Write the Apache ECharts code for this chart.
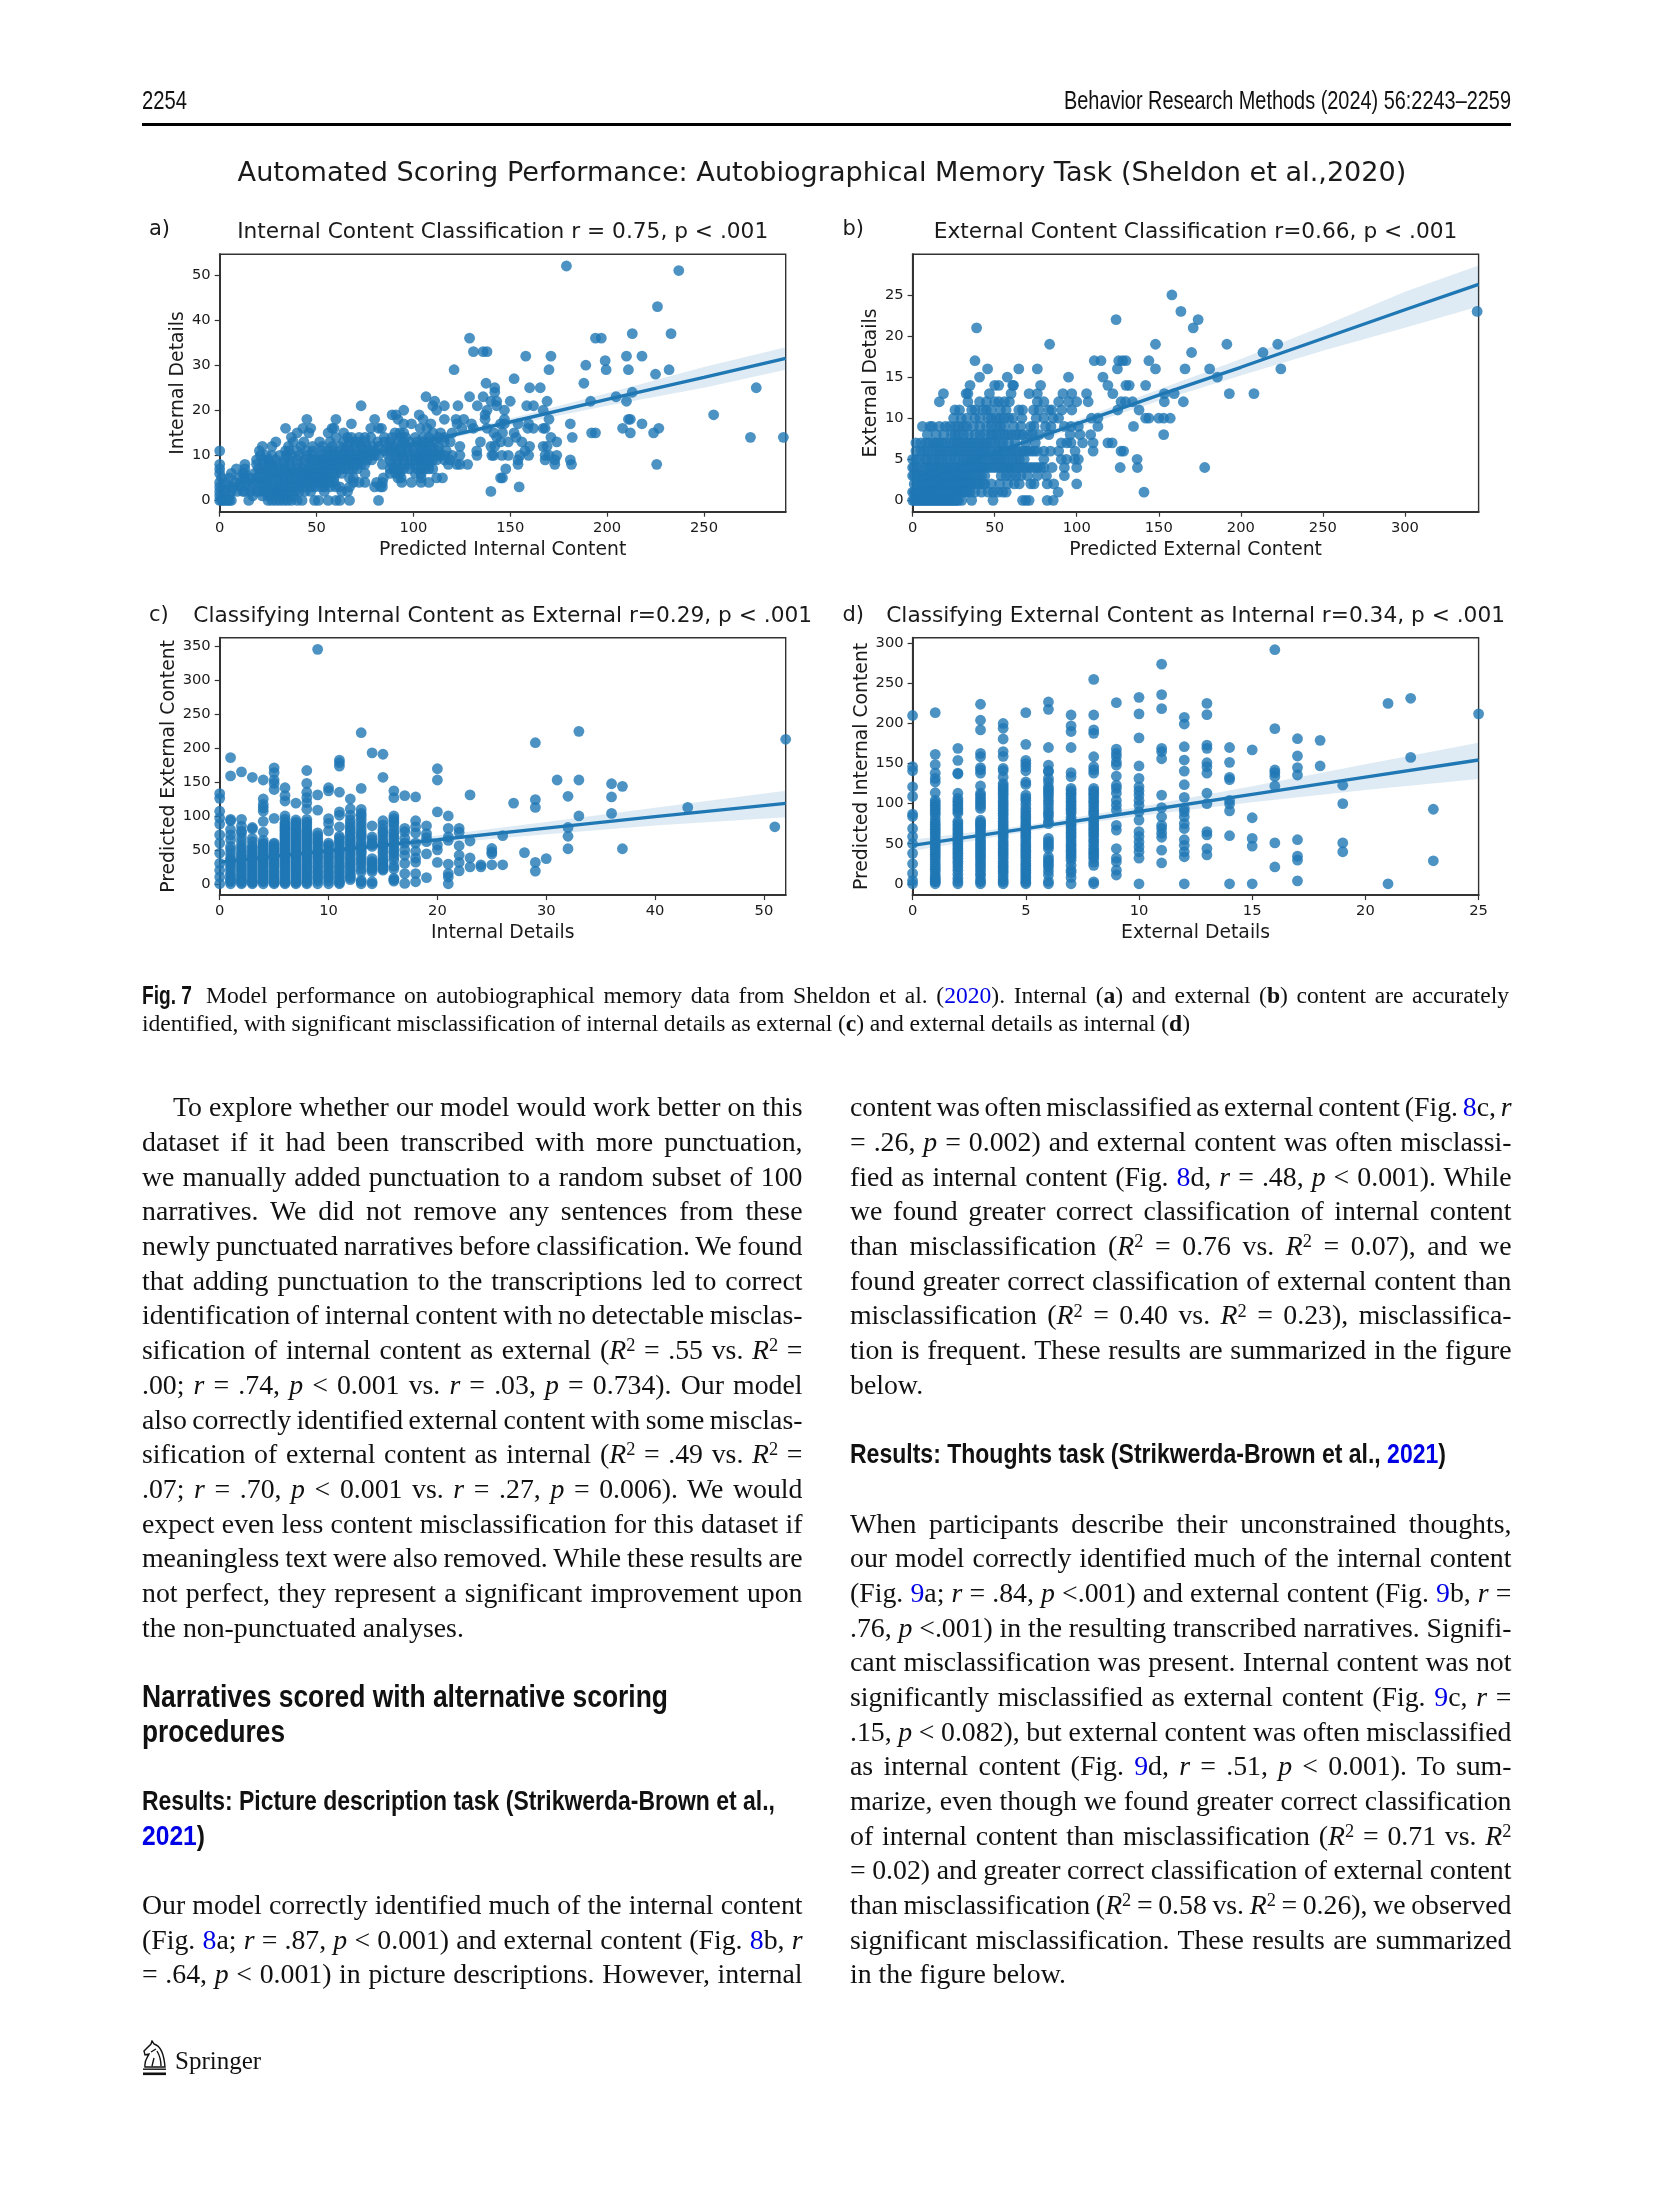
<!DOCTYPE html>
<html><head><meta charset="utf-8">
<style>
html,body{margin:0;padding:0;background:#fff;width:1654px;height:2197px;overflow:hidden}
#chart{position:absolute;left:0;top:0;width:1654px;height:2197px}
.ln{position:absolute;white-space:nowrap;line-height:34px;height:34px;font-family:"Liberation Serif",serif;font-size:27.8px;color:#111}
.hd{font-family:"Liberation Sans",sans-serif;font-weight:700;color:#111;transform-origin:0 50%}
.rh{font-family:"Liberation Sans",sans-serif;font-size:25px;color:#111;transform-origin:0 50%}
.cap{font-size:23.6px}
a{color:#0000e6;text-decoration:none}
sup{font-size:.66em;line-height:0;vertical-align:baseline;position:relative;top:-.42em}
#rule{position:absolute;left:142px;top:123px;width:1369px;height:3.4px;background:#000}
</style></head><body>
<div id="chart"></div>
<div id="rule"></div>
<div id="page"></div>
<svg style="position:absolute;left:142px;top:2040px" width="26" height="36" viewBox="0 0 26 36"><path d="M3 27 C2 20 6 17 7 14 L3 15 L2 11 L9 4 L10 1 L12 4 C19 6 22 14 23 27 Z M9 12 L14 9 M12 18 L10 26 M15 11 C18 16 19 21 19 26" fill="none" stroke="#111" stroke-width="1.4"/><rect x="1" y="28.5" width="23" height="1.4" fill="#111"/><rect x="1" y="32.5" width="23" height="2.6" fill="#111"/></svg>
<script src="https://cdn.jsdelivr.net/npm/echarts@6/dist/echarts.min.js"></script>
<script>
// ---------- Panel a: rows of [Internal Details, [Predicted Internal Content ...]]
const aRows=[
[52,[179]],[51,[237]],[43,[226]],[37,[213,233]],[36,[129,194,197]],[33,[131,136,138]],[32,[158,171,210,218]],[31,[199]],[30,[189]],
[29,[121,170,199.5,211,232]],[28,[225]],[27,[152]],[26,[137.5,188]],[25,[142,160,165.5,277]],[24,[142,213]],[23,[106.5,129,136,204.6]],
[22,[111,140,143,150,169,191.5,210]],[21,[73,110,116,123,133,143,158.5,162]],[20,[95,112,138,147,167]],[19,[89,91,103,137,255]],
[18,[45,60,80,92,105,116,122,126,137,147,170,211,212]],[17,[68,95,99,109,122.5,130,145,147,154,159.5,181,218]],
[16,[34,43,47,58,59,78,82,83.5,103.5,107,125,131,138,159,162,167,168,208,226.7]],
[15,[40,46,56,64,90.5,93,95,110,114,120,141.5,146,152,192,194,212,224]],
[14,[37,60,66,68,72,75,78,85,89,93.5,96,101,105,108,113,116,143,153,171,182,274,291]],
[13,[29,38,43.5,51.6,57,64,67,70,72,75,81.6,85,88,92,95,98,102,105,108,111,116,119,134.6,145,149,156,174]],
[12,[22,27,35.5,42,48,53,58,62,66,70,73,76,79,82,87,90,94,97,101,103.5,106,109,113,124,140,142,160,167,169]],
[11,[0,20.5,34,35.7,40,44.7,48,52.8,56,58,62,65,67,70.7,74,77,80,85,88,91,94,97,100,104.6,107,110,113,117,132.7,157.6]],
[10,[21,24,27,31,34.5,37,41,45,48,52,56,58,60,62,64,67,69,71.6,73,75,78,80,82,87,90.5,93,95,98,101,103,105,107,109.5,112,114,116,120,124,132.8,140.5,141.4,145.7,149,155,159.5,168,170,174]],
[9,[19,22.4,25,28.8,33.6,36,40,44,47,49,52,52.6,54,57,59,62,64,66,67,69,71,73,76,78.5,88,92,95,99,101,103,105,108,110,112,116,119,154,168,173,181]],
[8,[0,13,19,23,26,27,30,33,36,40,44,48,52,55,57,59,61,63,65,67,69,71,73,75,84,89,91,95,98,101,104,106,108,118,122.4,124,128,154,173,181.6,225.6]],
[7,[0,8.6,13,20,22,25,28,31,34,37,40,43,46,50,52,54,56,58,60,63,65,67,69,71,88,90,92.8,95,98,102,104,106,108,110,147.7]],
[6,[0,6,12,13,18,21,24,27,30,33,36,38,41,43,46,48,50,52,54,56,58,60,63,75,88,91,93,101,104]],
[5,[1,5,10,13,16,19,23,26,30,33,36,39,42,45,47,49,51,53,55,57,59,67,69,84.5,92,93.7,104,112,115,145,146]],
[4,[0,3,8,11,14,17,20,22,25,28,31,34,37,40,42,45,47,49,51,53,55,57,59,69,72,75,81,84,94,99,104,108]],
[3,[0,4,7,11,16,21,24,27,30,33,36,38,41,44,47,49,52,54,57,60,62,67,80,83,84,154.6]],
[2,[0,3,6,9,12,13,16,19,21,23,26,28,30,32,34,37,39,41,44,47,54,63,66,140]],
[1,[0,2,5,17,22,25,27,31,33,35,38]],
[0,[0,1,2,3,4,5,6,15,25,27,29,31,33,35,37,40,42.5,49,51,56,60,62,67,82]]
];
// ---------- Panel b: rows of [External Details, [Predicted External Content ...]]
const bRows=[
[25,[158]],[23,[163.5,344]],[22,[124,174]],[21,[39,171]],[19,[83.5,148,191.5,222.5]],[18,[170,213.5]],
[17,[38,110.7,114.8,125.6,128,130,144]],[16,[45.7,64.7,76,124.8,148,166,181,224.4]],[15,[40.8,57.7,95,116,185.7]],
[14,[35,50,52.5,61,61.5,78,119,130,132,142]],[13,[18.8,32.6,33.7,46.8,60,71,76,91.6,97,106,122,153.4,159.4,193,208]],
[12,[16.3,33.7,40.8,45,50,52.5,56,59,76,80,89,95,100,107,127,129.7,134,153.4,165]],
[11,[25.8,28.6,36,38,42.7,44.9,48,53.6,57,64.7,67,73.7,77,83,84.8,91,97,125,138]],
[10,[25,29.6,33,38,41,46,48,51,53,55.8,58.5,61,66.6,75.3,80,85.7,89,109,112.9,142,144,150,153,157]],
[9,[6,10.6,12,16.3,20,22.6,26,28,31,33,37,41,45,48,51,53.6,56,61.7,66,72,74,81,84.3,92.5,96.5,101,112.9,134.6]],
[8,[9,14.4,19,23.7,25.8,28,31,34,38,41,44,47.6,49,51,53,55.8,58,60,63,65,67,70.7,73,77,83,96,102,108.5,153]],
[7,[2,5,8,10,12.8,14,16,18,20,23,25,27,29,31,33,35,37,39,41,43.5,45,47.6,50,53,55,58.5,62.5,69,74.8,90.6,94,96.5,103.6,110,119,121.6]],
[6,[2,5,7,9,12,14,16,18,20,22,24.5,26,28,30,32,34,36,38,40,42,44,46,48,51.7,53,55.8,58,60,62,64,66.6,68,70,72,74,76,80,84,89,99,110,127,128.6]],
[5,[0,2,4,7.6,9,12,14,16.3,18,21,23,26,28,31,33,35,37,39,41,43,46,48,50,52,54,56,58,61,63,65,68,80,90.6,93.8,98.7,101,136.8]],
[4,[0,1,3,6,8,10,11.5,13,15,17,18,20,22,24,26,28,29.5,31,33,35,36.5,38,40,42,43.5,45,47,49,51,53,55,57,58.5,60,62,64,66,68,70,72,74,76,78,80,85,92.5,100,126.5,137,178]],
[3,[0,1,3,4,6,7.5,9,10.5,12,13.5,15,16.5,18,19.5,21,22.5,24,25.5,27,28.5,30,31.5,33,34.5,36,38,40,42,44,54,57,60,63,66,70,76,81.6,92.5]],
[2,[1,2.5,4,5.5,7,8.5,10,11.5,13,14.5,16,17.5,19,20.5,22,23.5,25,26.5,28,29.5,31,32.5,34,35.5,37,39,41,43,44,48,53,58,62,65,72,74,82,86,100]],
[1,[0,1,2,3.5,5,6.5,8,9.5,11,12.5,14,15.5,17,18.5,20,21.5,23,24.5,26,27.5,29,30.5,32,33.5,35,38,42,46,49,52,55,57,88.7,141]],
[0,[0,1,2,3,4,5,6,7,8,9,10,11,12,13,14,15,16,17,18,19,20,21,22,23,24,25,26,27,28,30,36,49,67,69,71,82,85.7]]
];
// ---------- Panel c: columns of [Internal Details, [Predicted External Content ...]]
const cCols=[
[0,[133,126,107,97,88,72,60,45,30,20,10,0]],[1,[186,159,95,93,80,72,65,55,50,44,38,35,31,28,24,20,15,12,8,5,3,0]],
[2,[165,95,85,78,75,68,62,56,52,48,44,41,38,34,30,27,24,21,18,15,12,9,6,4,2,0]],[3,[157,83,81,67,62,56,53,50,47,44,41,38,35,32,29,26,23,20,17,14,11,8,5,3,2,0]],
[4,[153,125,117,112,107,92,76,64,60,58,55,53,50,48,45,43,40,38,35,33,30,28,25,23,20,18,15,13,10,8,5,3,0]],[5,[171,164,153,148,139,96.5,60,58,55,52,50,48,45,43,40,36,33,30,27,24,20,17,14,11,8,6,3,2,0]],
[6,[141.6,130,122,100,95,90,88,85,83,80,78,75,73,70,68,65,63,60,58,55,53,50,48,45,43,40,37,34,31,28,25,22,19,16,13,10,7,4,2,0]],[7,[119,94,91,88,85,82,79,76,73,70,67,64,61,58,55,52,49,46,43,40,37,34,31,28,25,22,19,16,13,10,7,4,2,0]],
[8,[167,148,135,127,119.5,110,95,91,88,84,80,77,74,71,68,65,62,59,56,53,50,47,44,41,38,35,32,29,26,23,20,17,14,11,8,5,2,0]],[9,[345.6,131,108.6,75,71,67,63,60,56,52,48,45,41,38,34,30,26,22,18,15,11,8,4,0]],
[10,[141.6,137,96,89,78,60,57,55,50,45,41,38,34,30,26,22,18,15,11,8,4,0]],[11,[182.4,178.5,173.5,135,106,101,84,70,67,63,60,56,52,48,45,41,38,34,30,26,23,19,16,12,9,5,2,0]],
[12,[125,110.6,101,94,89,84,80,76,72,68,65,61,58,54,50,46,42,38,35,31,28,24,20,16,12,9,6]],[13,[222.7,140.6,109.6,103.7,100,95,90,85,80,75,71,68,62,58,55,52,48,45,40,36,32,28,22,18,5,3,0]],
[14,[193,85.5,69,65,60,58,55,37,33,30,27,24,21,18,3,0]],[15,[191,157,93,86.5,80,76,72,66,62,58,55,50,46,41,36,33,30,27,24,22,20]],
[16,[137,127,100,96,92,89,84,78,74,70,66,62,57,52,48,45,40,35,26,22,8,6,4]],[17,[130,81.6,76.7,67,60,50,42,30,15,0.5]],
[18,[128,93,84,75,60,48,38,32,15,3]],[19,[85.5,74,68,62,44,9]],[20,[169.6,153,106,57,50,31.5]],
[21,[100,81.6,69,64,29,15,10,0]],[22,[81.6,76,56,42,31.5,19]],[23,[131,63,38,25]],[24,[28,25]],[25,[52,47,44,28]],[26,[71,28]],
[27,[119]],[28,[46]],[29,[208,124,112.6,31.5,18.7]],[30,[37]],[31,[153]],[32,[129,83,70,51.6]],[33,[224.7,153,100]],
[36,[147.5,128,103.7]],[37,[143.6,51.6]],[43,[112.6]],[51,[84]],[52,[213]]
];
// ---------- Panel d: columns of [External Details, [Predicted Internal Content ...]]
const dCols=[
[0,[210,146,141,121,109,87,84,69,59,50,38,25,13,4,0]],
[1,[213.5,161.5,148.6,138,131.5,127,113.6,104,101,98,95,92,89,86,81,77,74,71,68,65,62,59,55,52,49,46,43,40,37,34,31,27.5,24,21,18,15,11,8,6,3,2.5,0]],
[2,[169,154,138,137,113,106.5,103,100,97,94,91,88,78,75,72,69,66,63,60,57,53,50,47,44,41,38,35,32,28,25,21,17,12,7,3,0]],
[3,[224,204,192,162.7,158.5,145,142,138,122,113,110,106.5,103,100,97,94,79.5,77,75,73,71,68,65,62,59,55,52,49,46,43,40,37,34,31,27.5,24,21,17,13,10,5,2.5,0]],
[4,[200,194,180.6,165,159,144,141,133,125,122,119,116,113,110,106.5,103,100,97,94,91,88,85,81.5,78,75,72,69,66,63,60,57,53,50,47,44,41,38,35,32,28,25,22,19,16,13,9,5,2.5,0]],
[5,[213.5,174,154,150,146,141,127,124,110.7,107,104,99,94,90,86,83,79.5,76,73,70,67,64,61,58,54.5,51,48,45,42,39,36,33,29.5,26,23,20,17,14,11,8,4.6,2,0]],
[6,[226.8,217.6,170,148,141,140,131.5,127,121,118,115,112,108.6,104,100,95,90,87,83.6,78,75,56.6,53,50,47,44,33.7,30,27.5,24,21,16,11,3,0]],
[7,[210.6,197,190,170,138.6,133.6,119,116,113,110,106.5,103,100,97,94,91,88,83,79.5,76,73,70,67,64,61,58,54.5,51,48,45,42,39,36,33,29.5,23,17,14,8,0]],
[8,[255,210.6,192,187.7,158.5,146,142,138,119,116,113,110,106.5,103,100,96,92,89,86,80,77,74,71,68,65,62,59,55,52,48,44,41,38,35,32,27,23,2.5,0]],
[9,[226,168,162.7,158.5,152,148,134.4,123,119,113,104,98,92,73,67,44,32,27.5,17,11]],
[10,[232.6,212,182,147,131.5,121,116,110.7,104,98,90,79.5,65,59,52,46,40,32,0]],
[11,[274,236,218.5,169,165,156,110.7,95,83.6,73,69,63,58,42,26]],
[12,[207.7,199.3,171,154.4,140.6,123.6,107.8,94,90,83.6,75,69,55,48,40,33.7,0]],
[13,[225,211,173,169,151,146,138,113,100,65,61,44,36]],
[14,[170,151.5,132.8,130,104,99.5,91,60,0]],[15,[167,82.4,56.6,47,0]],[16,[292,193.5,142,138.6,134,122,51,21]],
[17,[181,159.4,145,135.7,55,34.5,29.5,3.7]],[18,[179,147]],[19,[123,100,51,40]],[21,[225,0]],[22,[231.4,157.7]],[23,[93,28.7]],[25,[212]]
];
// ---------- Regression lines and confidence bands
const aBandX=[0,50,100,150,200,250,292.2],aLine=[2.6,7.6,12.5,17.4,22.4,27.3,31.5],aLow=[1.9,7.1,12,16.6,21,25,29],aUp=[3.3,8.1,13,18.2,23.8,29.6,34];
const bBandX=[0,50,100,150,200,250,300,344.9],bLine=[2.35,5.8,9.3,12.8,16.2,19.7,23.2,26.3],bLow=[1.95,5.45,8.85,12.1,15.2,18.2,21,23.6],bUp=[2.75,6.15,9.75,13.5,17.2,21.2,25.4,28.6];
const cBandX=[0,10,20,30,40,52],cLine=[32,48.7,65,82,99,118.5],cLow=[26,44.7,59,73,86,98],cUp=[38,52.7,71,91,112,137];
const dBandX=[0,5,10,15,20,25],dLine=[48,68.8,90.2,111.6,133,154.4],dLow=[41,64.8,84.7,101.6,117,130.7],dUp=[55,72.8,95.7,121.6,149,176];
// ---------- Axis ticks and texts
const aXTicks=[0,50,100,150,200,250],aYTicks=[0,10,20,30,40,50];
const bXTicks=[0,50,100,150,200,250,300],bYTicks=[0,5,10,15,20,25];
const cXTicks=[0,10,20,30,40,50],cYTicks=[0,50,100,150,200,250,300,350];
const dXTicks=[0,5,10,15,20,25],dYTicks=[0,50,100,150,200,250,300];
const suptitle="Automated Scoring Performance: Autobiographical Memory Task (Sheldon et al.,2020)";

const rowsToPts=r=>r.flatMap(([y,xs])=>xs.map(x=>[x,y]));
const colsToPts=c=>c.flatMap(([x,ys])=>ys.map(y=>[x,y]));
const L1=219.7,L2=912.6,W=566,H=257.4;
const panels=[
{tag:'a)',tagX:149,left:L1,top:254.3,title:'Internal Content Classification r = 0.75, p < .001',xn:'Predicted Internal Content',yn:'Internal Details',x:[0,292.2],y:[-2.5,54.6],xt:aXTicks,yt:aYTicks,pts:rowsToPts(aRows),bx:aBandX,ln:aLine,lo:aLow,up:aUp,gap:32,tagY:230,tY:232.5},
{tag:'b)',tagX:842.5,left:L2,top:254.3,title:'External Content Classification r=0.66, p < .001',xn:'Predicted External Content',yn:'External Details',x:[0,344.9],y:[-1.38,29.95],xt:bXTicks,yt:bYTicks,pts:rowsToPts(bRows),bx:bBandX,ln:bLine,lo:bLow,up:bUp,gap:32,tagY:230,tY:232.5},
{tag:'c)',tagX:149,left:L1,top:637.7,title:'Classifying Internal Content as External r=0.29, p < .001',xn:'Internal Details',yn:'Predicted External Content',x:[0,52],y:[-16.7,362.8],xt:cXTicks,yt:cYTicks,pts:colsToPts(cCols),bx:cBandX,ln:cLine,lo:cLow,up:cUp,gap:40,tagY:615.8,tY:616},
{tag:'d)',tagX:842.5,left:L2,top:637.7,title:'Classifying External Content as Internal r=0.34, p < .001',xn:'External Details',yn:'Predicted Internal Content',x:[0,25],y:[-14.1,307],xt:dXTicks,yt:dYTicks,pts:colsToPts(dCols),bx:dBandX,ln:dLine,lo:dLow,up:dUp,gap:41,tagY:615.8,tY:616}
];
const FONT='"DejaVu Sans"',BLUE='#1f77b4',TXT='#1a1a1a';
const option={animation:false,backgroundColor:'#fff',
 title:[{text:suptitle,left:822,top:174.4,padding:0,textAlign:'center',textVerticalAlign:'middle',textStyle:{fontFamily:FONT,fontSize:27.1,fontWeight:'normal',color:TXT}}],
 grid:[],xAxis:[],yAxis:[],series:[]};
panels.forEach((p,i)=>{
 option.title.push({text:p.title,left:p.left+W/2,top:p.tY,padding:0,textAlign:'center',textVerticalAlign:'middle',textStyle:{fontFamily:FONT,fontSize:21.7,fontWeight:'normal',color:TXT}});
 option.title.push({text:p.tag,left:p.tagX,top:p.tagY,padding:0,textVerticalAlign:'middle',textStyle:{fontFamily:FONT,fontSize:21,fontWeight:'normal',color:TXT}});
 option.grid.push({left:p.left,top:p.top,width:W,height:H,show:true,borderColor:'#333',borderWidth:1.4,backgroundColor:'#fff',containLabel:false});
 const ax=(isY,ticks,name,ext,gap)=>({type:'value',gridIndex:i,min:ext[0],max:ext[1],scale:true,splitLine:{show:false},
   axisLine:{show:true,onZero:false,lineStyle:{color:'#333',width:2}},
   axisTick:{show:true,length:5,customValues:ticks,lineStyle:{color:'#333',width:1.2}},
   axisLabel:Object.assign({customValues:ticks,fontFamily:FONT,fontSize:14.7,color:TXT,margin:isY?9:8.5,showMinLabel:true,showMaxLabel:true},isY?{padding:[3,0,0,0]}:{}),
   name,nameLocation:'middle',nameGap:gap,nameTextStyle:{fontFamily:FONT,fontSize:18.8,color:TXT}});
 option.xAxis.push(ax(false,p.xt,p.xn,p.x,29));
 option.yAxis.push(ax(true,p.yt,p.yn,p.y,p.gap));
 option.series.push({type:'scatter',xAxisIndex:i,yAxisIndex:i,data:p.pts,symbolSize:10.8,clip:true,silent:true,itemStyle:{color:BLUE,opacity:.8}});
 option.series.push({type:'custom',xAxisIndex:i,yAxisIndex:i,data:[[p.x[0],p.y[0]]],clip:true,silent:true,z:3,
   renderItem:(pr,api)=>{const top=p.bx.map((x,k)=>api.coord([x,p.up[k]]));const bot=p.bx.map((x,k)=>api.coord([x,p.lo[k]])).reverse();
     return {type:'polygon',shape:{points:top.concat(bot)},style:{fill:BLUE,opacity:.15}};}});
 option.series.push({type:'line',xAxisIndex:i,yAxisIndex:i,data:p.bx.map((x,k)=>[x,p.ln[k]]),showSymbol:false,symbol:'none',z:4,silent:true,clip:true,lineStyle:{color:BLUE,width:3.4,opacity:1}});
});
echarts.init(document.getElementById('chart')).setOption(option);

// ---------- Page text
const I=s=>'<i>'+s+'</i>',R2='<i>R</i><sup>2</sup>',A=s=>'<a>'+s+'</a>';
const leftLines=[
[0,'To explore whether our model would work better on this',1,31],
[1,'dataset if it had been transcribed with more punctuation,',1],
[2,'we manually added punctuation to a random subset of 100',1],
[3,'narratives. We did not remove any sentences from these',1],
[4,'newly punctuated narratives before classification. We found',1],
[5,'that adding punctuation to the transcriptions led to correct',1],
[6,'identification of internal content with no detectable misclas-',1],
[7,'sification of internal content as external ('+R2+' = .55 vs. '+R2+' =',1],
[8,'.00; '+I('r')+' = .74, '+I('p')+' &lt; 0.001 vs. '+I('r')+' = .03, '+I('p')+' = 0.734). Our model',1],
[9,'also correctly identified external content with some misclas-',1],
[10,'sification of external content as internal ('+R2+' = .49 vs. '+R2+' =',1],
[11,'.07; '+I('r')+' = .70, '+I('p')+' &lt; 0.001 vs. '+I('r')+' = .27, '+I('p')+' = 0.006). We would',1],
[12,'expect even less content misclassification for this dataset if',1],
[13,'meaningless text were also removed. While these results are',1],
[14,'not perfect, they represent a significant improvement upon',1],
[15,'the non-punctuated analyses.',0],
[23,'Our model correctly identified much of the internal content',1],
[24,'(Fig. '+A('8')+'a; '+I('r')+' = .87, '+I('p')+' &lt; 0.001) and external content (Fig. '+A('8')+'b, '+I('r'),1],
[25,'= .64, '+I('p')+' &lt; 0.001) in picture descriptions. However, internal',1]
];
const rightLines=[
[0,'content was often misclassified as external content (Fig. '+A('8')+'c, '+I('r'),1],
[1,'= .26, '+I('p')+' = 0.002) and external content was often misclassi-',1],
[2,'fied as internal content (Fig. '+A('8')+'d, '+I('r')+' = .48, '+I('p')+' &lt; 0.001). While',1],
[3,'we found greater correct classification of internal content',1],
[4,'than misclassification ('+R2+' = 0.76 vs. '+R2+' = 0.07), and we',1],
[5,'found greater correct classification of external content than',1],
[6,'misclassification ('+R2+' = 0.40 vs. '+R2+' = 0.23), misclassifica-',1],
[7,'tion is frequent. These results are summarized in the figure',1],
[8,'below.',0],
[12,'When participants describe their unconstrained thoughts,',1],
[13,'our model correctly identified much of the internal content',1],
[14,'(Fig. '+A('9')+'a; '+I('r')+' = .84, '+I('p')+' &lt;.001) and external content (Fig. '+A('9')+'b, '+I('r')+' =',1],
[15,'.76, '+I('p')+' &lt;.001) in the resulting transcribed narratives. Signifi-',1],
[16,'cant misclassification was present. Internal content was not',1],
[17,'significantly misclassified as external content (Fig. '+A('9')+'c, '+I('r')+' =',1],
[18,'.15, '+I('p')+' &lt; 0.082), but external content was often misclassified',1],
[19,'as internal content (Fig. '+A('9')+'d, '+I('r')+' = .51, '+I('p')+' &lt; 0.001). To sum-',1],
[20,'marize, even though we found greater correct classification',1],
[21,'of internal content than misclassification ('+R2+' = 0.71 vs. '+I('R')+'<sup>2</sup>',1],
[22,'= 0.02) and greater correct classification of external content',1],
[23,'than misclassification ('+R2+' = 0.58 vs. '+R2+' = 0.26), we observed',1],
[24,'significant misclassification. These results are summarized',1],
[25,'in the figure below.',0]
];
const page=document.getElementById('page');
const CY=n=>1107.4+34.68*n;
function put(html,x,cy,w,cls,style){
 const s=document.createElement('span');s.className='ln '+(cls||'');s.innerHTML=html;s.style.left=x+'px';s.style.top=(cy-17)+'px';
 if(style)s.style.cssText+=';'+style;
 page.appendChild(s);
 if(w){const cur=s.getBoundingClientRect().width;
  if(cls==='hd'||cls==='rh'){s.style.transform='scaleX('+(w/cur)+')';}
  else{const n=(s.textContent.match(/ /g)||[]).length;if(n)s.style.wordSpacing=((w-cur)/n)+'px';}}
 return s;
}
const LX=142,RX=850,CW=660.5;
leftLines.forEach(([n,t,j,ind])=>put(t,LX+(ind||0),CY(n),j?CW-(ind||0):0));
rightLines.forEach(([n,t,j])=>put(t,RX,CY(n),j?CW+1:0));
put('2254',142,100,45,'rh');
put('Behavior Research Methods (2024) 56:2243–2259',1064,100,447,'rh');
put('Fig. 7',142,995,50,'hd','font-size:25px');
put('Model performance on autobiographical memory data from Sheldon et al. ('+A('2020')+'). Internal (<b>a</b>) and external (<b>b</b>) content are accurately',206,995,1303,'cap');
put('identified, with significant misclassification of internal details as external (<b>c</b>) and external details as internal (<b>d</b>)',142,1023,1048,'cap');
put('Narratives scored with alternative scoring',142,CY(17),526,'hd','font-size:31px');
put('procedures',142,CY(18),143,'hd','font-size:31px');
put('Results: Picture description task (Strikwerda-Brown et al.,',142,CY(20),633,'hd','font-size:27.8px');
put(A('2021')+')',142,CY(21),63,'hd','font-size:27.8px');
put('Results: Thoughts task (Strikwerda-Brown et al., '+A('2021')+')',850,CY(10),596,'hd','font-size:27.8px');
put('Springer',175,2060.5,0,'','font-size:25px');
</script>
</body></html>
